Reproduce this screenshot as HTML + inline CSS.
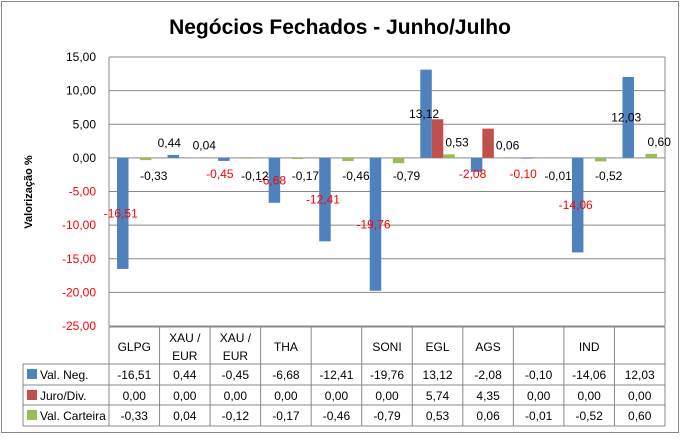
<!DOCTYPE html>
<html><head><meta charset="utf-8"><style>
body{margin:0;background:#fff;font-family:"Liberation Sans",sans-serif}
</style></head><body>
<svg id="c" width="680" height="435" xmlns="http://www.w3.org/2000/svg" font-family="Liberation Sans, sans-serif">
<rect x="1.5" y="1.5" width="677" height="431" fill="#fff" stroke="#888"/>
<text x="340" y="34" text-anchor="middle" font-size="21" font-weight="bold">Negócios Fechados - Junho/Julho</text>
<text transform="translate(32,192) rotate(-90)" text-anchor="middle" font-size="11" font-weight="bold">Valorização %</text>
<g id="grid"></g><g id="bars"></g><g id="labels"></g><g id="table"></g>
</svg>
<script>
const categories=[["GLPG"],["XAU /","EUR"],["XAU /","EUR"],["THA"],[""],["SONI"],["EGL"],["AGS"],[""],["IND"],[""]];
const valNeg=[-16.51,0.44,-0.45,-6.68,-12.41,-19.76,13.12,-2.08,-0.10,-14.06,12.03];
const juroDiv=[0,0,0,0,0,0,5.74,4.35,0,0,0];
const valCarteira=[-0.33,0.04,-0.12,-0.17,-0.46,-0.79,0.53,0.06,-0.01,-0.52,0.60];
const yTicks=[15,10,5,0,-5,-10,-15,-20,-25];
const seriesNames=["Val. Neg.","Juro/Div.","Val. Carteira"];
const colors=["#4F81BD","#C0504D","#9BBB59"];
const L=109,R=665,T=57,B=326,ymin=-25,ymax=15;
const NS="http://www.w3.org/2000/svg";
const y=v=>T+(ymax-v)/(ymax-ymin)*(B-T);
const cw=(R-L)/categories.length;
const x=i=>L+i*cw;
const fmt=v=>v.toFixed(2).replace('.',',');
function mk(tag,attrs,parent,txt){const e=document.createElementNS(NS,tag);for(const k in attrs)e.setAttribute(k,attrs[k]);if(txt!==undefined)e.textContent=txt;document.getElementById(parent).appendChild(e);return e;}
yTicks.forEach(t=>{
 const l=mk('line',{x1:L,x2:R,y1:y(t),y2:y(t),stroke:'#888'},'grid');
 
 
 const tx=mk('text',{x:96,y:y(t)+4,'text-anchor':'end','font-size':12,fill:t<0?'#f00':'#000'},'grid',fmt(t));
 
 
});
mk('line',{x1:L,x2:L,y1:T,y2:B,stroke:'#888'},'grid');
mk('line',{x1:R,x2:R,y1:T,y2:B,stroke:'#888'},'grid');
const series=[valNeg,juroDiv,valCarteira];
const bw=11.5;
series.forEach((s,si)=>{
 s.forEach((v,i)=>{
  const bx=x(i)+(cw-3*bw)/2+si*bw;
  const r=mk('rect',{x:bx,y:Math.min(y(v),y(0)),width:bw,height:Math.abs(y(v)-y(0)),fill:colors[si]},'bars');
  
  
  if(si===1)return;
  let lx,ly;
  if(si===0){
   if(Math.abs(v)>3){lx=bx+bw/2-2;ly=(y(v)+y(0))/2+4;}
   else{lx=bx+bw/2-4;ly=v>=0?y(v)-8:y(0)+20;}
  }else{lx=bx+bw/2+8;ly=v>=0?y(v)-8:y(0)+22;}
  const t=mk('text',{x:lx,y:ly,'text-anchor':'middle','font-size':12,fill:v<0&&si===0?'#f00':'#000'},'labels',fmt(v));
  
  
 });
});
// table
const rows=[327,364,385,405,426];
mk('line',{x1:L,x2:R,y1:rows[0],y2:rows[0],stroke:'#888'},'table');
for(let r=1;r<rows.length;r++)mk('line',{x1:23,x2:R,y1:rows[r],y2:rows[r],stroke:'#888'},'table');
mk('line',{x1:23,x2:23,y1:rows[1],y2:rows[4],stroke:'#888'},'table');
for(let i=0;i<=categories.length;i++)mk('line',{x1:x(i),x2:x(i),y1:rows[0],y2:rows[4],stroke:'#888'},'table');
categories.forEach((c,i)=>{
 c.forEach((ln,k)=>{
  const ty=c.length===1?351:342+k*18;
  const t=mk('text',{x:x(i)+cw/2,y:ty,'text-anchor':'middle','font-size':12},'table',ln);
  
  
 });
});
series.forEach((s,si)=>{
 const ry=rows[si+1];
 const sw=mk('rect',{x:27,y:ry+5,width:10,height:10,fill:colors[si]},'table');
 
 
 const n=mk('text',{x:40,y:ry+15,'font-size':12},'table',seriesNames[si]);
 
 
 s.forEach((v,i)=>{
  const t=mk('text',{x:x(i)+cw/2,y:ry+15,'text-anchor':'middle','font-size':12},'table',fmt(v));
  
  
 });
});
</script>
</body></html>
